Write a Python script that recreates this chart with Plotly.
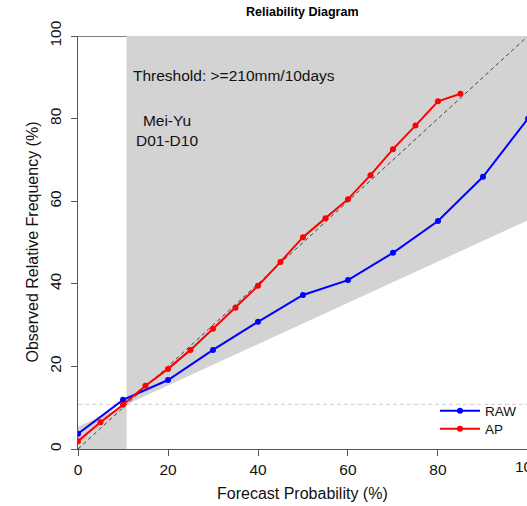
import plotly.graph_objects as go

# Forecast probability bins (%) and observed relative frequency (%)
raw_prob = [0, 10, 20, 30, 40, 50, 60, 70, 80, 90, 100]
raw_freq = [3.7, 11.9, 16.7, 24.0, 30.8, 37.3, 40.9, 47.5, 55.2, 65.9, 80.0]

ap_prob = [0, 5, 10, 15, 20, 25, 30, 35, 40, 45, 50, 55, 60, 65, 70, 75, 80, 85]
ap_freq = [1.9, 6.5, 10.7, 15.3, 19.4, 24.0, 29.1, 34.2, 39.5, 45.3, 51.3, 55.9,
           60.5, 66.3, 72.6, 78.3, 84.2, 86.0]

# Climatological frequency of the event (%)
clim = 10.8

x_ticks = [0, 20, 40, 60, 80, 100]
y_ticks = [0, 20, 40, 60, 80, 100]

FONT = "Liberation Sans, Arial, sans-serif"
TXT = "#111111"
X_MAX = 99.78  # plot area ends just short of 100

fig = go.Figure()

fig.add_trace(go.Scatter(
    x=raw_prob, y=raw_freq, mode="lines+markers", name="RAW",
    line=dict(color="#0000FF", width=2),
    marker=dict(color="#0000FF", size=6),
    legend="legend", showlegend=True,
))
fig.add_trace(go.Scatter(
    x=ap_prob, y=ap_freq, mode="lines+markers", name="AP",
    line=dict(color="#FF0000", width=2),
    marker=dict(color="#FF0000", size=6),
    legend="legend2", showlegend=True,
))

no_skill_0 = clim / 2
no_skill_100 = (100 + clim) / 2

shapes = [
    # short top line at 100
    dict(type="line", xref="paper", yref="y", x0=-0.014, x1=clim / X_MAX,
         y0=100, y1=100, line=dict(color="black", width=1), layer="below"),
    # skill regions
    dict(type="path", xref="x", yref="y",
         path=f"M 0,0 L {clim},0 L {clim},{clim} L 0,{no_skill_0} Z",
         fillcolor="#D3D3D3", line=dict(width=0), layer="below"),
    dict(type="path", xref="x", yref="y",
         path=f"M {clim},{clim} L {clim},100 L 100,100 L 100,{no_skill_100} Z",
         fillcolor="#D3D3D3", line=dict(width=0), layer="below"),
    # climatology lines
    dict(type="line", xref="x", yref="y", x0=0, x1=100, y0=clim, y1=clim,
         line=dict(color="#CFCFCF", width=1, dash="4px,3px"), layer="below"),
    dict(type="line", xref="x", yref="y", x0=clim, x1=clim, y0=0, y1=100,
         line=dict(color="#E2E2E2", width=1, dash="4px,3px"), layer="below"),
    # perfect reliability diagonal
    dict(type="line", xref="x", yref="y", x0=0, x1=100, y0=0, y1=100,
         line=dict(color="#444444", width=1, dash="4px,3px"), layer="below"),
]

annotations = [
    dict(text="<b>Reliability Diagram</b>", xref="paper", yref="paper",
         x=0.5, y=1, yanchor="middle", yshift=24, showarrow=False,
         font=dict(family=FONT, size=12.5, color="black")),
    dict(text="Threshold: >=210mm/10days", xref="x", yref="y",
         x=11.8, y=90.5, xanchor="left", yanchor="middle", showarrow=False,
         font=dict(family=FONT, size=15.5, color=TXT)),
    dict(text="Mei-Yu<br>D01-D10", xref="x", yref="y",
         x=19.8, y=77.2, xanchor="center", yanchor="middle", showarrow=False,
         align="center", font=dict(family=FONT, size=15.5, color=TXT)),
    dict(text="Forecast Probability (%)", xref="paper", yref="paper",
         x=0.5, y=0, xanchor="center", yanchor="middle", yshift=-44,
         showarrow=False, font=dict(family=FONT, size=16, color=TXT)),
    dict(text="Observed Relative Frequency (%)", xref="paper", yref="paper",
         x=0, xanchor="center", xshift=-46, y=0.5, yanchor="middle",
         textangle=-90, showarrow=False,
         font=dict(family=FONT, size=16, color=TXT)),
    dict(text="100", xref="paper", yref="paper", x=100 / X_MAX, y=0,
         xanchor="center", yanchor="middle", yshift=-17.5, showarrow=False,
         font=dict(family=FONT, size=15.5, color=TXT)),
]

legend_style = dict(xanchor="left", yanchor="middle", bgcolor="rgba(0,0,0,0)",
                    font=dict(family=FONT, size=13.5, color=TXT),
                    itemwidth=40, borderwidth=0, visible=True)

fig.update_layout(
    width=527, height=506,
    margin=dict(l=78, r=0, t=36, b=57),
    paper_bgcolor="white", plot_bgcolor="white",
    showlegend=True,
    shapes=shapes, annotations=annotations,
    font=dict(family=FONT, size=15.5, color=TXT),
    legend=dict(x=0.795, y=(449 - 411) / 413, **legend_style),
    legend2=dict(x=0.795, y=(449 - 429) / 413, **legend_style),
    xaxis=dict(range=[0, X_MAX], tickvals=x_ticks, showgrid=False,
               zeroline=False, showline=True, linecolor="#555555",
               ticks="outside", ticklen=6, tickcolor="#555555",
               tickfont=dict(size=15.5)),
    yaxis=dict(range=[0, 100], tickvals=y_ticks, showgrid=False,
               zeroline=False, showline=True, linecolor="#555555",
               ticks="outside", ticklen=6, tickcolor="#555555",
               tickangle=-90, ticklabelstandoff=4,
               tickfont=dict(size=15.5)),
)

fig.write_html("out.html")
